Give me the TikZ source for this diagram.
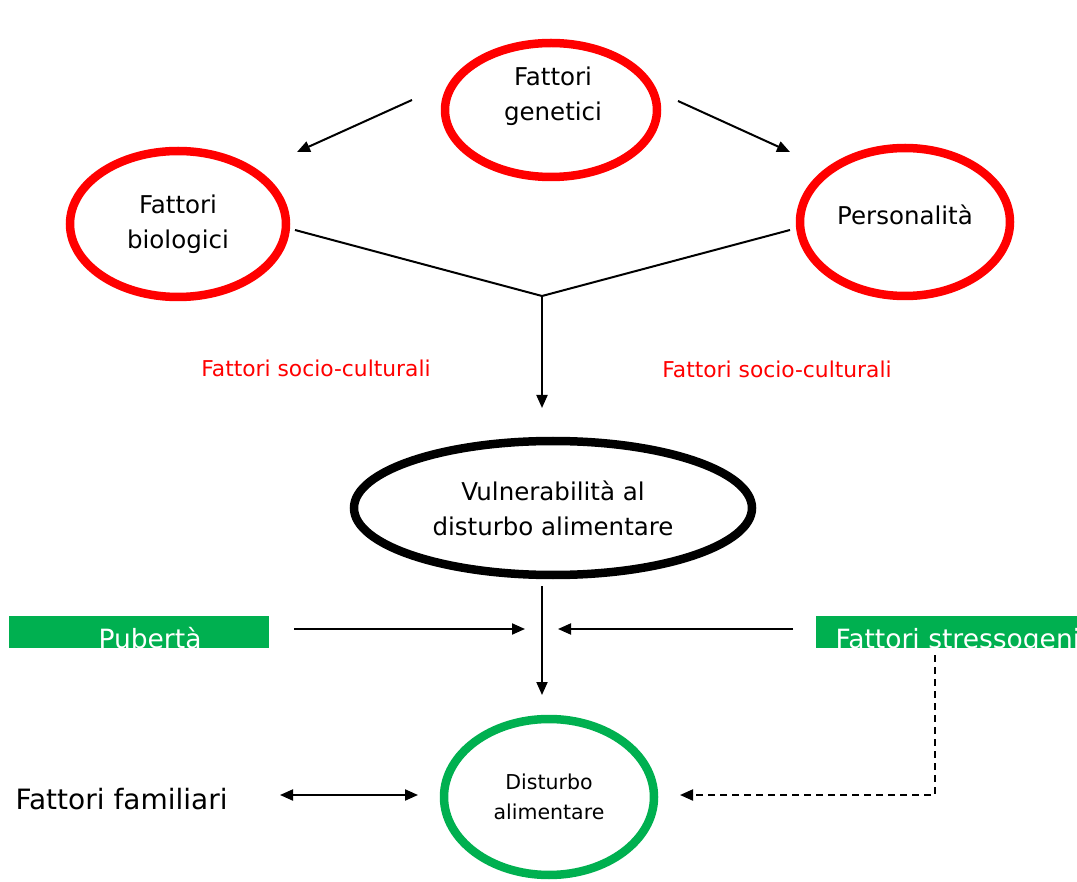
\documentclass[tikz,border=0pt]{standalone}
\usepackage{fontspec}
\setmainfont{DejaVu Sans}
\usetikzlibrary{shapes.geometric,arrows.meta}
\definecolor{dgreen}{RGB}{0,176,80}
\definecolor{dred}{RGB}{255,0,0}
\begin{document}
\begin{tikzpicture}[x=1pt,y=-1pt,
  oval/.style={ellipse,draw,line width=8.5pt,inner sep=0pt,align=center},
  redoval/.style={oval,draw=dred},
  txt/.style={font=\fontsize{24.5}{35}\selectfont,align=center},
  arr/.style={-{Triangle[length=13pt,width=11pt]},line width=2pt},
  plain/.style={line width=2pt},
  greenbox/.style={fill=dgreen,draw=none},
  boxtxt/.style={text=white,font=\fontsize{26.5}{28}\selectfont,anchor=base},
  redtxt/.style={text=dred,font=\fontsize{21.8}{22}\selectfont}
]
\useasboundingbox (0,0) rectangle (1077,882);
\fill[white] (0,0) rectangle (1077,882);

% ellipses
\node[redoval,minimum width=212pt,minimum height=134pt] (gen) at (551,110) {};
\node[txt] (genT) at (553,96) {Fattori\\genetici};
\node[redoval,minimum width=216pt,minimum height=146pt,txt] (bio) at (178,224) {Fattori\\biologici};
\node[redoval,minimum width=210pt,minimum height=148pt] (pers) at (905,222) {};
\node[txt] (persT) at (905,215) {Personalità};
\node[oval,draw=black,minimum width=398pt,minimum height=134pt,txt] (vuln) at (553,508) {Vulnerabilità al\\disturbo alimentare};
\node[oval,draw=dgreen,minimum width=210pt,minimum height=156pt,font=\fontsize{20.5}{30}\selectfont] (dist) at (549,797) {Disturbo\\alimentare};

% red labels
\node[redtxt] (scl) at (316,368) {Fattori socio-culturali};
\node[redtxt] (scr) at (777,369) {Fattori socio-culturali};

% green boxes (text clipped at bottom, as in the original)
\begin{scope}
  \clip (9,616) rectangle (269,648);
  \fill[greenbox] (9,616) rectangle (269,648);
  \node[boxtxt] (pub) at (150,648) {Pubertà};
\end{scope}
\coordinate (pubR) at (294,629);
\begin{scope}
  \clip (816,616) rectangle (1077,648);
  \fill[greenbox] (816,616) rectangle (1077,648);
  \node[boxtxt,anchor=base west] (stress) at (832,648) {Fattori stressogeni};
\end{scope}
\coordinate (stressL) at (793,629);

\node[font=\fontsize{28}{30}\selectfont,anchor=west] (fam) at (12,799) {Fattori familiari};

% connector coordinates
\coordinate (g1) at (412,100);
\coordinate (g1e) at (297,152);
\coordinate (g2) at (678,101);
\coordinate (g2e) at (790,152);
\coordinate (b1) at (295,230);
\coordinate (p1) at (790,230);
\coordinate (j) at (542,296);
\coordinate (je) at (542,408);
\coordinate (pubE) at (525,629);
\coordinate (stressE) at (558,629);
\coordinate (v1) at (542,586);
\coordinate (v1e) at (542,695);
\coordinate (f1) at (280,795);
\coordinate (f2) at (418,795);
\coordinate (s1) at (935,655);
\coordinate (s2) at (935,795);
\coordinate (s3) at (680,795);

\draw[arr] (g1) -- (g1e);
\draw[arr] (g2) -- (g2e);
\draw[plain] (b1) -- (j) -- (p1);
\draw[arr] (j) -- (je);
\draw[arr] (pubR) -- (pubE);
\draw[arr] (stressL) -- (stressE);
\draw[arr] (v1) -- (v1e);
\draw[{Triangle[length=13pt,width=11pt]}-{Triangle[length=13pt,width=11pt]},line width=2pt] (f1) -- (f2);
\draw[arr,dash pattern=on 7pt off 5pt] (s1) -- (s2) -- (s3);
\end{tikzpicture}
\end{document}
